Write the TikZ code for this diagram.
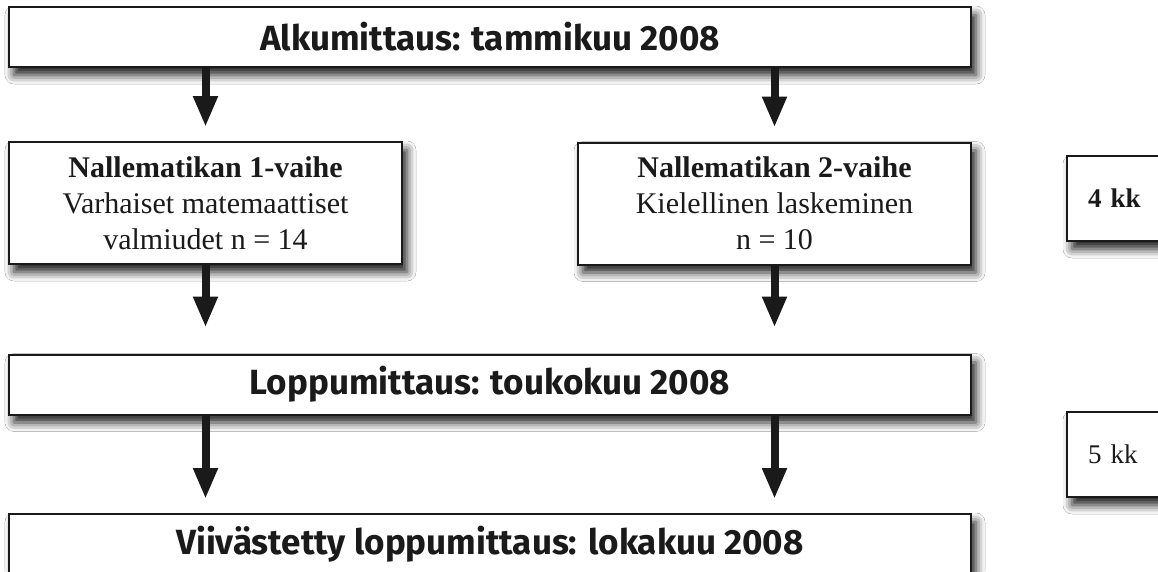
\documentclass[tikz,border=0pt]{standalone}
\usepackage{fontspec}
\setmainfont{Liberation Serif}
\newfontfamily\hdfont{Fira Sans}
\usetikzlibrary{arrows.meta,shadows.blur}
\definecolor{ink}{HTML}{1A1A1A}
\begin{document}
\begin{tikzpicture}[x=1pt,y=-1pt,
  box/.style={draw=ink, line width=2pt, fill=white, inner sep=0pt,
    blur shadow={shadow xshift=5pt, shadow yshift=-8pt, shadow blur radius=9pt, shadow opacity=90}},
  big/.style={box, minimum width=962pt, minimum height=60pt,
    font=\hdfont\bfseries\fontsize{35}{40}\selectfont, text=ink},
  mid/.style={box, minimum width=393pt, minimum height=122pt, align=center,
    font=\fontsize{30}{36}\selectfont, text=ink},
  side/.style={box, anchor=west, minimum height=85pt, text width=80pt, align=left,
    inner xsep=21pt, font=\fontsize{27}{32}\selectfont, text=ink},
  arr/.style={draw=ink, line width=8pt, -{Triangle[width=23pt,length=31pt]}}]
\fill[white] (0,0) rectangle (1158,571);
\clip (0,0) rectangle (1158,571);
\node[big] (top) at (490,37) {Alkumittaus: tammikuu 2008};
\node[mid] (b1) at (205.5,203) {\textbf{Nallematikan 1-vaihe}\\Varhaiset matemaattiset\\valmiudet n = 14};
\node[mid] (b2) at (774.5,203.5) {\textbf{Nallematikan 2-vaihe}\\Kielellinen laskeminen\\n = 10};
\node[big] (lop) at (490,384.5) {Loppumittaus: toukokuu 2008};
\node[big] (viiv) at (490,544) {Viivästetty loppumittaus: lokakuu 2008};
\node[side] (k4) at (1066,198.5) {\textbf{4 kk}};
\node[side] (k5) at (1066,454.5) {5 kk};
\draw[arr, shorten >=14pt] (top.south -| b1.north) -- (b1.north);
\draw[arr, shorten >=14pt] (top.south -| b2.north) -- (b2.north);
\draw[arr, shorten >=26pt] (b1.south) -- (b1.south |- lop.north);
\draw[arr, shorten >=26pt] (b2.south) -- (b2.south |- lop.north);
\draw[arr, shorten >=14pt] (lop.south -| b1.south) -- (b1.south |- viiv.north);
\draw[arr, shorten >=14pt] (lop.south -| b2.south) -- (b2.south |- viiv.north);
\end{tikzpicture}
\end{document}
